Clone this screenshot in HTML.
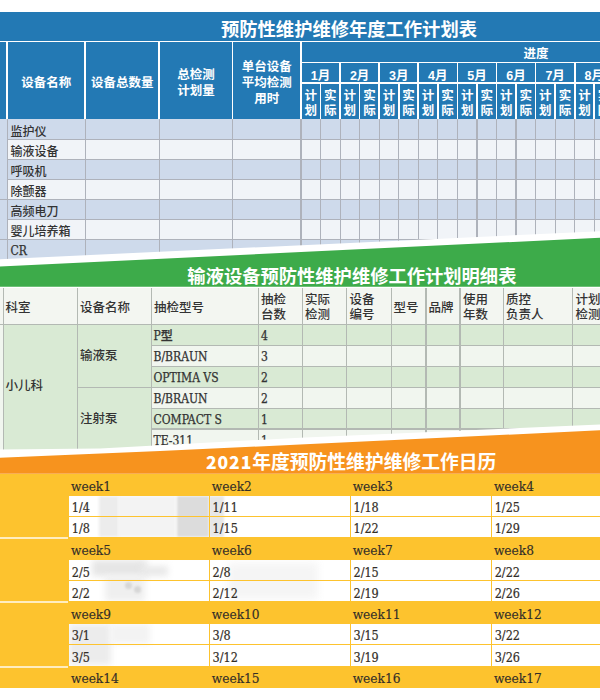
<!DOCTYPE html>
<html><head><meta charset="utf-8"><style>
*{margin:0;padding:0;box-sizing:border-box}
html,body{width:600px;height:700px;overflow:hidden;background:#fff}
body{position:relative;font-family:"Liberation Sans","Noto Sans CJK SC",sans-serif}
div,span{position:absolute}
span{white-space:nowrap;line-height:1;transform:translateY(-50%)}
.c{text-align:center}
.h1{color:#fff;font-weight:bold;font-size:12.5px;font-family:"Liberation Sans","Noto Sans CJK SC",sans-serif;transform:translateY(calc(-50% + 0.0895em))}
.h1 .d{position:static;font-family:"Liberation Sans","Noto Sans CJK SC",sans-serif;font-weight:bold}
.dg{font-style:normal;font-family:"Noto Sans CJK SC",sans-serif;font-weight:900;font-size:17.5px;letter-spacing:0.9px}
.t1{color:#fff;font-weight:bold;font-size:18px;font-family:"Liberation Sans","Noto Sans CJK SC",sans-serif;transform:translateY(calc(-50% + 0.0895em))}
.r1{color:#333;font-size:12px;font-weight:500;font-family:"Liberation Sans","Noto Sans CJK SC",sans-serif;transform:translateY(calc(-50% + 0.0895em))}
.m{font-weight:500}
.r2{color:#333;font-size:12.5px;font-weight:500;font-family:"Liberation Sans","Noto Sans CJK SC",sans-serif;transform:translateY(calc(-50% + 0.0895em))}
.lat{transform:translateY(-50%);-webkit-text-stroke:0.25px #333;font-family:"DejaVu Serif Condensed","DejaVu Serif","Noto Sans CJK SC",serif;font-size:12px;font-stretch:condensed}
.wk{color:#332e28;-webkit-text-stroke:0.15px #332e28;font-size:12.2px;font-family:"DejaVu Serif","Noto Sans CJK SC",serif}
.dt{color:#332e28;-webkit-text-stroke:0.2px #332e28;font-size:12.5px;font-family:"DejaVu Serif Condensed","DejaVu Serif",serif;font-stretch:condensed}
</style></head><body>
<div style="left:0.00px;top:11.50px;width:600.00px;height:29.30px;background:#2379b4;"></div>
<div style="left:0.00px;top:40.60px;width:600.00px;height:1.80px;background:#fff;"></div>
<div style="left:0.00px;top:42.40px;width:600.00px;height:76.60px;background:#2379b4;"></div>
<div style="left:6.15px;top:42.40px;width:1.70px;height:76.60px;background:#fff;"></div>
<div style="left:84.45px;top:42.40px;width:1.70px;height:76.60px;background:#fff;"></div>
<div style="left:158.35px;top:42.40px;width:1.70px;height:76.60px;background:#fff;"></div>
<div style="left:231.75px;top:42.40px;width:1.70px;height:76.60px;background:#fff;"></div>
<div style="left:300.05px;top:42.40px;width:1.70px;height:76.60px;background:#fff;"></div>
<div style="left:301.00px;top:61.75px;width:299.00px;height:1.70px;background:#fff;"></div>
<div style="left:301.00px;top:82.00px;width:299.00px;height:1.70px;background:#fff;"></div>
<div style="left:319.70px;top:82.60px;width:1.70px;height:36.40px;background:#fff;"></div>
<div style="left:339.25px;top:62.00px;width:1.70px;height:57.00px;background:#fff;"></div>
<div style="left:358.80px;top:82.60px;width:1.70px;height:36.40px;background:#fff;"></div>
<div style="left:378.35px;top:62.00px;width:1.70px;height:57.00px;background:#fff;"></div>
<div style="left:397.90px;top:82.60px;width:1.70px;height:36.40px;background:#fff;"></div>
<div style="left:417.45px;top:62.00px;width:1.70px;height:57.00px;background:#fff;"></div>
<div style="left:437.00px;top:82.60px;width:1.70px;height:36.40px;background:#fff;"></div>
<div style="left:456.55px;top:62.00px;width:1.70px;height:57.00px;background:#fff;"></div>
<div style="left:476.10px;top:82.60px;width:1.70px;height:36.40px;background:#fff;"></div>
<div style="left:495.65px;top:62.00px;width:1.70px;height:57.00px;background:#fff;"></div>
<div style="left:515.20px;top:82.60px;width:1.70px;height:36.40px;background:#fff;"></div>
<div style="left:534.75px;top:62.00px;width:1.70px;height:57.00px;background:#fff;"></div>
<div style="left:554.30px;top:82.60px;width:1.70px;height:36.40px;background:#fff;"></div>
<div style="left:573.85px;top:62.00px;width:1.70px;height:57.00px;background:#fff;"></div>
<div style="left:593.40px;top:82.60px;width:1.70px;height:36.40px;background:#fff;"></div>
<div style="left:0.00px;top:119.00px;width:600.00px;height:20.70px;background:#cedaeb;"></div>
<div style="left:0.00px;top:139.70px;width:600.00px;height:20.00px;background:#f1f4f8;"></div>
<div style="left:0.00px;top:159.70px;width:600.00px;height:20.00px;background:#cedaeb;"></div>
<div style="left:0.00px;top:179.70px;width:600.00px;height:20.00px;background:#f1f4f8;"></div>
<div style="left:0.00px;top:199.70px;width:600.00px;height:20.00px;background:#cedaeb;"></div>
<div style="left:0.00px;top:219.70px;width:600.00px;height:20.00px;background:#f1f4f8;"></div>
<div style="left:0.00px;top:239.70px;width:600.00px;height:20.00px;background:#cedaeb;"></div>
<div style="left:0.00px;top:119.00px;width:7.00px;height:140.00px;background:#cedaeb;"></div>
<div style="left:7.00px;top:139.00px;width:593.00px;height:1.40px;background:#aeb2bb;"></div>
<div style="left:7.00px;top:159.00px;width:593.00px;height:1.40px;background:#aeb2bb;"></div>
<div style="left:7.00px;top:179.00px;width:593.00px;height:1.40px;background:#aeb2bb;"></div>
<div style="left:7.00px;top:199.00px;width:593.00px;height:1.40px;background:#aeb2bb;"></div>
<div style="left:7.00px;top:219.00px;width:593.00px;height:1.40px;background:#aeb2bb;"></div>
<div style="left:7.00px;top:239.00px;width:593.00px;height:1.40px;background:#aeb2bb;"></div>
<div style="left:0.00px;top:199.00px;width:7.00px;height:1.40px;background:#aeb2bb;"></div>
<div style="left:0.00px;top:239.00px;width:7.00px;height:1.40px;background:#aeb2bb;"></div>
<div style="left:6.70px;top:119.00px;width:1.20px;height:140.00px;background:#aeb2bb;"></div>
<div style="left:84.70px;top:119.00px;width:1.20px;height:140.00px;background:#aeb2bb;"></div>
<div style="left:158.60px;top:119.00px;width:1.20px;height:140.00px;background:#aeb2bb;"></div>
<div style="left:232.00px;top:119.00px;width:1.20px;height:140.00px;background:#aeb2bb;"></div>
<div style="left:300.40px;top:119.00px;width:1.20px;height:140.00px;background:#aeb2bb;"></div>
<div style="left:319.95px;top:119.00px;width:1.20px;height:140.00px;background:#aeb2bb;"></div>
<div style="left:339.50px;top:119.00px;width:1.20px;height:140.00px;background:#aeb2bb;"></div>
<div style="left:359.05px;top:119.00px;width:1.20px;height:140.00px;background:#aeb2bb;"></div>
<div style="left:378.60px;top:119.00px;width:1.20px;height:140.00px;background:#aeb2bb;"></div>
<div style="left:398.15px;top:119.00px;width:1.20px;height:140.00px;background:#aeb2bb;"></div>
<div style="left:417.70px;top:119.00px;width:1.20px;height:140.00px;background:#aeb2bb;"></div>
<div style="left:437.25px;top:119.00px;width:1.20px;height:140.00px;background:#aeb2bb;"></div>
<div style="left:456.80px;top:119.00px;width:1.20px;height:140.00px;background:#aeb2bb;"></div>
<div style="left:476.35px;top:119.00px;width:1.20px;height:140.00px;background:#aeb2bb;"></div>
<div style="left:495.90px;top:119.00px;width:1.20px;height:140.00px;background:#aeb2bb;"></div>
<div style="left:515.45px;top:119.00px;width:1.20px;height:140.00px;background:#aeb2bb;"></div>
<div style="left:535.00px;top:119.00px;width:1.20px;height:140.00px;background:#aeb2bb;"></div>
<div style="left:554.55px;top:119.00px;width:1.20px;height:140.00px;background:#aeb2bb;"></div>
<div style="left:574.10px;top:119.00px;width:1.20px;height:140.00px;background:#aeb2bb;"></div>
<div style="left:593.65px;top:119.00px;width:1.20px;height:140.00px;background:#aeb2bb;"></div>
<span class="h1 c" style="left:-53.80px;top:82.00px;width:200px;">设备名称</span>
<span class="h1 c" style="left:22.20px;top:82.00px;width:200px;">设备总数量</span>
<span class="h1 c" style="left:96.00px;top:74.00px;width:200px;">总检测</span>
<span class="h1 c" style="left:96.00px;top:90.00px;width:200px;">计划量</span>
<span class="h1 c" style="left:166.80px;top:66.00px;width:200px;">单台设备</span>
<span class="h1 c" style="left:166.80px;top:82.00px;width:200px;">平均检测</span>
<span class="h1 c" style="left:166.80px;top:97.50px;width:200px;">用时</span>
<span class="h1 c" style="left:436.00px;top:53.10px;width:200px;">进度</span>
<span class="h1 c" style="left:220.55px;top:74.60px;width:200px;"><b class="d">1</b>月</span>
<span class="h1 c" style="left:210.78px;top:94.50px;width:200px;">计</span>
<span class="h1 c" style="left:210.78px;top:109.70px;width:200px;">划</span>
<span class="h1 c" style="left:230.32px;top:94.50px;width:200px;">实</span>
<span class="h1 c" style="left:230.32px;top:109.70px;width:200px;">际</span>
<span class="h1 c" style="left:259.65px;top:74.60px;width:200px;"><b class="d">2</b>月</span>
<span class="h1 c" style="left:249.88px;top:94.50px;width:200px;">计</span>
<span class="h1 c" style="left:249.88px;top:109.70px;width:200px;">划</span>
<span class="h1 c" style="left:269.42px;top:94.50px;width:200px;">实</span>
<span class="h1 c" style="left:269.42px;top:109.70px;width:200px;">际</span>
<span class="h1 c" style="left:298.75px;top:74.60px;width:200px;"><b class="d">3</b>月</span>
<span class="h1 c" style="left:288.98px;top:94.50px;width:200px;">计</span>
<span class="h1 c" style="left:288.98px;top:109.70px;width:200px;">划</span>
<span class="h1 c" style="left:308.52px;top:94.50px;width:200px;">实</span>
<span class="h1 c" style="left:308.52px;top:109.70px;width:200px;">际</span>
<span class="h1 c" style="left:337.85px;top:74.60px;width:200px;"><b class="d">4</b>月</span>
<span class="h1 c" style="left:328.08px;top:94.50px;width:200px;">计</span>
<span class="h1 c" style="left:328.08px;top:109.70px;width:200px;">划</span>
<span class="h1 c" style="left:347.62px;top:94.50px;width:200px;">实</span>
<span class="h1 c" style="left:347.62px;top:109.70px;width:200px;">际</span>
<span class="h1 c" style="left:376.95px;top:74.60px;width:200px;"><b class="d">5</b>月</span>
<span class="h1 c" style="left:367.18px;top:94.50px;width:200px;">计</span>
<span class="h1 c" style="left:367.18px;top:109.70px;width:200px;">划</span>
<span class="h1 c" style="left:386.73px;top:94.50px;width:200px;">实</span>
<span class="h1 c" style="left:386.73px;top:109.70px;width:200px;">际</span>
<span class="h1 c" style="left:416.05px;top:74.60px;width:200px;"><b class="d">6</b>月</span>
<span class="h1 c" style="left:406.27px;top:94.50px;width:200px;">计</span>
<span class="h1 c" style="left:406.27px;top:109.70px;width:200px;">划</span>
<span class="h1 c" style="left:425.82px;top:94.50px;width:200px;">实</span>
<span class="h1 c" style="left:425.82px;top:109.70px;width:200px;">际</span>
<span class="h1 c" style="left:455.15px;top:74.60px;width:200px;"><b class="d">7</b>月</span>
<span class="h1 c" style="left:445.38px;top:94.50px;width:200px;">计</span>
<span class="h1 c" style="left:445.38px;top:109.70px;width:200px;">划</span>
<span class="h1 c" style="left:464.92px;top:94.50px;width:200px;">实</span>
<span class="h1 c" style="left:464.92px;top:109.70px;width:200px;">际</span>
<span class="h1 c" style="left:494.25px;top:74.60px;width:200px;"><b class="d">8</b>月</span>
<span class="h1 c" style="left:484.48px;top:94.50px;width:200px;">计</span>
<span class="h1 c" style="left:484.48px;top:109.70px;width:200px;">划</span>
<span class="h1 c" style="left:504.02px;top:94.50px;width:200px;">实</span>
<span class="h1 c" style="left:504.02px;top:109.70px;width:200px;">际</span>
<span class="r1" style="left:10.50px;top:131.30px;">监护仪</span>
<span class="r1" style="left:10.50px;top:151.30px;">输液设备</span>
<span class="r1" style="left:10.50px;top:171.30px;">呼吸机</span>
<span class="r1" style="left:10.50px;top:191.30px;">除颤器</span>
<span class="r1" style="left:10.50px;top:211.30px;">高频电刀</span>
<span class="r1" style="left:10.50px;top:231.30px;">婴儿培养箱</span>
<span class="r1 lat" style="left:10.50px;top:251.30px;">CR</span>
<span class="t1 c" style="left:149.00px;top:28.80px;width:400px;font-size:18.3px">预防性维护维修年度工作计划表</span>
<div style="left:0;top:0;width:600px;height:700px;background:#fff;clip-path:polygon(0 259.2px,600px 231.3px,600px 700px,0 700px)"></div>
<div style="left:0;top:0;width:600px;height:287px;background:#3dab4a;clip-path:polygon(0 266.4px,600px 237.8px,600px 286.8px,0 286.8px)"></div>
<span class="t1 c" style="left:151.90px;top:275.80px;width:400px;font-size:18.3px">输液设备预防性维护维修工作计划明细表</span>
<div style="left:0.00px;top:288.30px;width:600.00px;height:36.20px;background:#f3f6f1;"></div>
<div style="left:151.20px;top:324.50px;width:449.00px;height:20.90px;background:#d9ead4;"></div>
<div style="left:151.20px;top:345.40px;width:449.00px;height:20.90px;background:#f1f6ef;"></div>
<div style="left:151.20px;top:366.30px;width:449.00px;height:20.90px;background:#d9ead4;"></div>
<div style="left:151.20px;top:387.20px;width:449.00px;height:20.90px;background:#f1f6ef;"></div>
<div style="left:151.20px;top:408.10px;width:449.00px;height:20.90px;background:#d9ead4;"></div>
<div style="left:151.20px;top:429.00px;width:449.00px;height:20.90px;background:#f1f6ef;"></div>
<div style="left:0.00px;top:324.50px;width:151.20px;height:130.00px;background:#d9ead4;"></div>
<div style="left:0.00px;top:324.50px;width:3.20px;height:130.00px;background:#f1f6ef;"></div>
<div style="left:0.00px;top:323.90px;width:600.00px;height:1.20px;background:#b3b9b3;"></div>
<div style="left:151.20px;top:344.80px;width:449.00px;height:1.20px;background:#b3b9b3;"></div>
<div style="left:151.20px;top:365.70px;width:449.00px;height:1.20px;background:#b3b9b3;"></div>
<div style="left:151.20px;top:386.60px;width:449.00px;height:1.20px;background:#b3b9b3;"></div>
<div style="left:151.20px;top:407.50px;width:449.00px;height:1.20px;background:#b3b9b3;"></div>
<div style="left:151.20px;top:428.40px;width:449.00px;height:1.20px;background:#b3b9b3;"></div>
<div style="left:151.20px;top:449.30px;width:449.00px;height:1.20px;background:#b3b9b3;"></div>
<div style="left:77.30px;top:386.60px;width:74.00px;height:1.20px;background:#b3b9b3;"></div>
<div style="left:2.60px;top:288.30px;width:1.20px;height:170.00px;background:#b3b9b3;"></div>
<div style="left:76.70px;top:288.30px;width:1.20px;height:170.00px;background:#b3b9b3;"></div>
<div style="left:150.60px;top:288.30px;width:1.20px;height:170.00px;background:#b3b9b3;"></div>
<div style="left:257.70px;top:288.30px;width:1.20px;height:170.00px;background:#b3b9b3;"></div>
<div style="left:301.70px;top:288.30px;width:1.20px;height:170.00px;background:#b3b9b3;"></div>
<div style="left:346.20px;top:288.30px;width:1.20px;height:170.00px;background:#b3b9b3;"></div>
<div style="left:390.60px;top:288.30px;width:1.20px;height:170.00px;background:#b3b9b3;"></div>
<div style="left:425.40px;top:288.30px;width:1.20px;height:170.00px;background:#b3b9b3;"></div>
<div style="left:459.40px;top:288.30px;width:1.20px;height:170.00px;background:#b3b9b3;"></div>
<div style="left:502.60px;top:288.30px;width:1.20px;height:170.00px;background:#b3b9b3;"></div>
<div style="left:572.20px;top:288.30px;width:1.20px;height:170.00px;background:#b3b9b3;"></div>
<span class="r2" style="left:5.50px;top:306.80px;">科室</span>
<span class="r2" style="left:80.00px;top:306.80px;">设备名称</span>
<span class="r2" style="left:154.00px;top:306.80px;">抽检型号</span>
<span class="r2" style="left:261.00px;top:298.90px;">抽检</span>
<span class="r2" style="left:261.00px;top:314.45px;">台数</span>
<span class="r2" style="left:305.00px;top:298.90px;">实际</span>
<span class="r2" style="left:305.00px;top:314.45px;">检测</span>
<span class="r2" style="left:349.50px;top:298.90px;">设备</span>
<span class="r2" style="left:349.50px;top:314.45px;">编号</span>
<span class="r2" style="left:463.00px;top:298.90px;">使用</span>
<span class="r2" style="left:463.00px;top:314.45px;">年数</span>
<span class="r2" style="left:506.00px;top:298.90px;">质控</span>
<span class="r2" style="left:506.00px;top:314.45px;">负责人</span>
<span class="r2" style="left:575.50px;top:298.90px;">计划</span>
<span class="r2" style="left:575.50px;top:314.45px;">检测</span>
<span class="r2" style="left:393.50px;top:306.80px;">型号</span>
<span class="r2" style="left:428.50px;top:306.80px;">品牌</span>
<span class="r2 m" style="left:5.50px;top:385.30px;">小儿科</span>
<span class="r2 m" style="left:80.00px;top:355.20px;">输液泵</span>
<span class="r2 m" style="left:80.00px;top:417.60px;">注射泵</span>
<span class="r2 lat" style="left:153.50px;top:336.00px;">P型</span>
<span class="r2 lat" style="left:261.00px;top:336.00px;">4</span>
<span class="r2 lat" style="left:153.50px;top:356.90px;">B/BRAUN</span>
<span class="r2 lat" style="left:261.00px;top:356.90px;">3</span>
<span class="r2 lat" style="left:153.50px;top:377.80px;">OPTIMA VS</span>
<span class="r2 lat" style="left:261.00px;top:377.80px;">2</span>
<span class="r2 lat" style="left:153.50px;top:398.70px;">B/BRAUN</span>
<span class="r2 lat" style="left:261.00px;top:398.70px;">2</span>
<span class="r2 lat" style="left:153.50px;top:419.60px;">COMPACT S</span>
<span class="r2 lat" style="left:261.00px;top:419.60px;">1</span>
<span class="r2 lat" style="left:153.50px;top:440.50px;">TE-311</span>
<span class="r2 lat" style="left:261.00px;top:440.50px;">1</span>
<div style="left:0;top:0;width:600px;height:700px;background:#fff;clip-path:polygon(0 449.6px,100px 448.4px,300px 437.7px,600px 424.5px,600px 700px,0 700px)"></div>
<div style="left:0;top:0;width:600px;height:474px;background:#f7931e;clip-path:polygon(0 457.8px,160px 451px,300px 444.5px,600px 430.3px,600px 473.8px,0 473.8px)"></div>
<span class="t1 c" style="left:151.20px;top:461.40px;width:400px;font-size:18.8px"><i class="dg">2021</i>年度预防性维护维修工作日历</span>
<div style="left:68.70px;top:495.70px;width:531.30px;height:41.10px;background:#fff;"></div>
<div style="left:68.70px;top:560.00px;width:531.30px;height:40.90px;background:#fff;"></div>
<div style="left:68.70px;top:623.70px;width:531.30px;height:42.10px;background:#fff;"></div>
<div style="left:98.50px;top:495.80px;width:20.00px;height:41.00px;background:#ececec;filter:blur(1.5px)"></div>
<div style="left:118.00px;top:495.80px;width:58.00px;height:41.00px;background:#f3f3f3;filter:blur(1.5px)"></div>
<div style="left:176.50px;top:495.80px;width:32.50px;height:41.00px;background:#dcdcdc;filter:blur(0.8px)"></div>
<div style="left:209.00px;top:495.80px;width:15.00px;height:41.00px;background:#e7e7e7;filter:blur(1.2px)"></div>
<div style="left:92.00px;top:559.80px;width:55.00px;height:16.00px;background:#e6e6e6;filter:blur(3px)"></div>
<div style="left:140.00px;top:566.00px;width:28.00px;height:10.00px;background:#e9e9e9;filter:blur(3px)"></div>
<div style="left:105.00px;top:576.00px;width:40.00px;height:25.00px;background:#efefef;filter:blur(3px)"></div>
<div style="left:68.70px;top:623.80px;width:42.00px;height:41.00px;background:#ececec;filter:blur(3px)"></div>
<div style="left:110.00px;top:623.80px;width:40.00px;height:20.00px;background:#f3f3f3;filter:blur(3px)"></div>
<div style="left:228.00px;top:563.00px;width:90.00px;height:36.00px;background:#f5f5f5;filter:blur(4px)"></div>
<div style="left:125px;top:582px;width:7px;height:7px;border-radius:50%;background:#d6d6d6;filter:blur(.8px)"></div>
<div style="left:133.5px;top:585.5px;width:7px;height:7px;border-radius:50%;background:#d6d6d6;filter:blur(.8px)"></div>
<div style="left:0.00px;top:473.60px;width:600.00px;height:22.10px;background:#fdc32e;"></div>
<div style="left:68.70px;top:515.70px;width:531.30px;height:1.10px;background:#fdc32e;"></div>
<div style="left:209.30px;top:495.70px;width:1.00px;height:41.10px;background:#fdc32e;"></div>
<div style="left:350.20px;top:495.70px;width:1.00px;height:41.10px;background:#fdc32e;"></div>
<div style="left:491.40px;top:495.70px;width:1.00px;height:41.10px;background:#fdc32e;"></div>
<div style="left:68.70px;top:536.80px;width:531.30px;height:23.20px;background:#fdc32e;"></div>
<div style="left:68.70px;top:580.00px;width:531.30px;height:1.10px;background:#fdc32e;"></div>
<div style="left:209.30px;top:560.00px;width:1.00px;height:40.90px;background:#fdc32e;"></div>
<div style="left:350.20px;top:560.00px;width:1.00px;height:40.90px;background:#fdc32e;"></div>
<div style="left:491.40px;top:560.00px;width:1.00px;height:40.90px;background:#fdc32e;"></div>
<div style="left:68.70px;top:600.90px;width:531.30px;height:22.80px;background:#fdc32e;"></div>
<div style="left:68.70px;top:644.10px;width:531.30px;height:1.10px;background:#fdc32e;"></div>
<div style="left:209.30px;top:623.70px;width:1.00px;height:42.10px;background:#fdc32e;"></div>
<div style="left:350.20px;top:623.70px;width:1.00px;height:42.10px;background:#fdc32e;"></div>
<div style="left:491.40px;top:623.70px;width:1.00px;height:42.10px;background:#fdc32e;"></div>
<div style="left:68.70px;top:665.80px;width:531.30px;height:22.00px;background:#fdc32e;"></div>
<div style="left:0.00px;top:473.60px;width:68.70px;height:214.20px;background:#fdc32e;"></div>
<div style="left:0.00px;top:537.30px;width:67.50px;height:1.30px;background:rgba(255,255,255,.7);"></div>
<div style="left:0.00px;top:601.40px;width:67.50px;height:1.30px;background:rgba(255,255,255,.7);"></div>
<div style="left:0.00px;top:666.30px;width:67.50px;height:1.30px;background:rgba(255,255,255,.7);"></div>
<span class="wk" style="left:71.00px;top:486.85px;">week1</span>
<span class="wk" style="left:211.80px;top:486.85px;">week2</span>
<span class="wk" style="left:352.70px;top:486.85px;">week3</span>
<span class="wk" style="left:493.90px;top:486.85px;">week4</span>
<span class="dt" style="left:71.80px;top:508.20px;">1/4</span>
<span class="dt" style="left:212.60px;top:508.20px;">1/11</span>
<span class="dt" style="left:353.50px;top:508.20px;">1/18</span>
<span class="dt" style="left:494.70px;top:508.20px;">1/25</span>
<span class="dt" style="left:71.80px;top:529.30px;">1/8</span>
<span class="dt" style="left:212.60px;top:529.30px;">1/15</span>
<span class="dt" style="left:353.50px;top:529.30px;">1/22</span>
<span class="dt" style="left:494.70px;top:529.30px;">1/29</span>
<span class="wk" style="left:71.00px;top:550.60px;">week5</span>
<span class="wk" style="left:211.80px;top:550.60px;">week6</span>
<span class="wk" style="left:352.70px;top:550.60px;">week7</span>
<span class="wk" style="left:493.90px;top:550.60px;">week8</span>
<span class="dt" style="left:71.80px;top:572.50px;">2/5</span>
<span class="dt" style="left:212.60px;top:572.50px;">2/8</span>
<span class="dt" style="left:353.50px;top:572.50px;">2/15</span>
<span class="dt" style="left:494.70px;top:572.50px;">2/22</span>
<span class="dt" style="left:71.80px;top:593.50px;">2/2</span>
<span class="dt" style="left:212.60px;top:593.50px;">2/12</span>
<span class="dt" style="left:353.50px;top:593.50px;">2/19</span>
<span class="dt" style="left:494.70px;top:593.50px;">2/26</span>
<span class="wk" style="left:71.00px;top:614.50px;">week9</span>
<span class="wk" style="left:211.80px;top:614.50px;">week10</span>
<span class="wk" style="left:352.70px;top:614.50px;">week11</span>
<span class="wk" style="left:493.90px;top:614.50px;">week12</span>
<span class="dt" style="left:71.80px;top:636.40px;">3/1</span>
<span class="dt" style="left:212.60px;top:636.40px;">3/8</span>
<span class="dt" style="left:353.50px;top:636.40px;">3/15</span>
<span class="dt" style="left:494.70px;top:636.40px;">3/22</span>
<span class="dt" style="left:71.80px;top:658.00px;">3/5</span>
<span class="dt" style="left:212.60px;top:658.00px;">3/12</span>
<span class="dt" style="left:353.50px;top:658.00px;">3/19</span>
<span class="dt" style="left:494.70px;top:658.00px;">3/26</span>
<span class="wk" style="left:71.00px;top:679.00px;">week14</span>
<span class="wk" style="left:211.80px;top:679.00px;">week15</span>
<span class="wk" style="left:352.70px;top:679.00px;">week16</span>
<span class="wk" style="left:493.90px;top:679.00px;">week17</span>
</body></html>
